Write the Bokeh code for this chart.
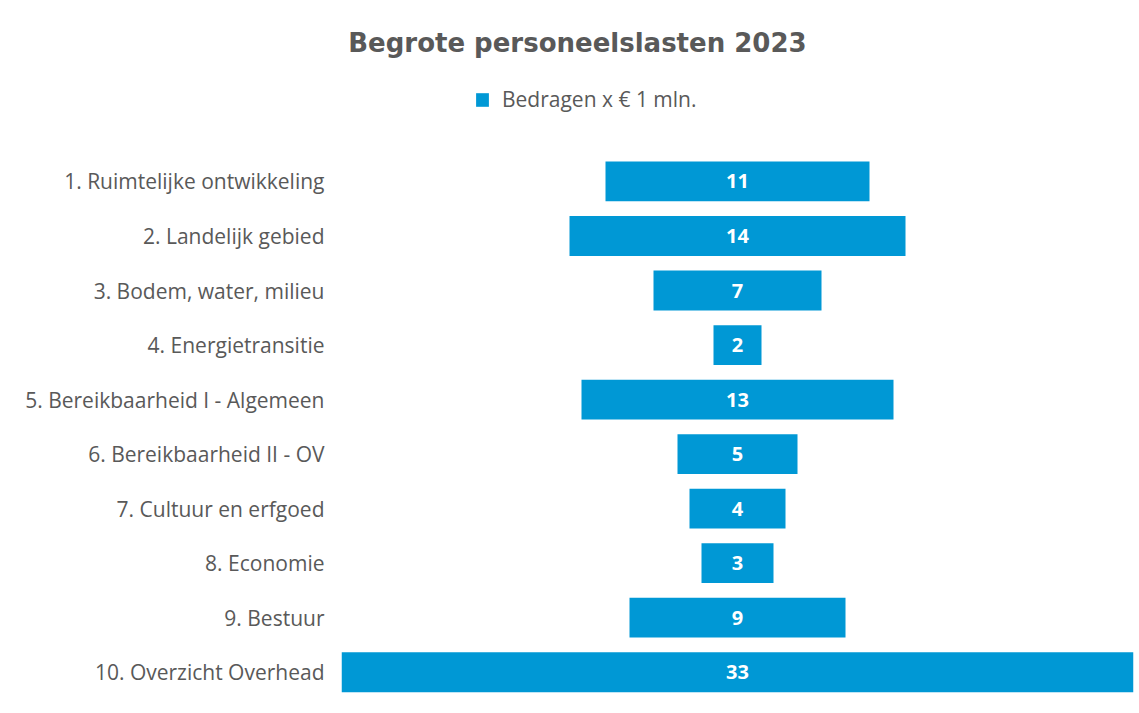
from bokeh.plotting import figure
from bokeh.models import ColumnDataSource, Range1d, FixedTicker, Label, Legend, LegendItem
from bokeh.core.properties import value
from bokeh.embed import file_html
from bokeh.resources import INLINE

categories = [
    "1. Ruimtelijke ontwikkeling",
    "2. Landelijk gebied",
    "3. Bodem, water, milieu",
    "4. Energietransitie",
    "5. Bereikbaarheid I - Algemeen",
    "6. Bereikbaarheid II - OV",
    "7. Cultuur en erfgoed",
    "8. Economie",
    "9. Bestuur",
    "10. Overzicht Overhead",
]
amounts = [11, 14, 7, 2, 13, 5, 4, 3, 9, 33]
series_name = "Bedragen x € 1 mln."
title_text = "Begrote personeelslasten 2023"

BAR = "#0098D5"
GRAY = "#595959"

rows = list(range(1, len(categories) + 1))
src = ColumnDataSource(dict(
    y=rows,
    left=[-a / 2 for a in amounts],
    right=[a / 2 for a in amounts],
    x=[0] * len(amounts),
    lab=[str(a) for a in amounts],
))

p = figure(width=1139, height=705, output_backend="svg", toolbar_location=None,
           x_range=Range1d(-16.5, 16.5), y_range=Range1d(10.5, -2.318),
           min_border_left=341, min_border_right=6, min_border_top=0, min_border_bottom=6)
p.outline_line_color = None
p.grid.grid_line_color = None
p.xaxis.visible = False

r = p.hbar(y="y", left="left", right="right", height=0.73, source=src,
           fill_color=BAR, line_color=None)
p.text(x="x", y="y", text="lab", source=src, text_align="center", text_baseline="middle",
       text_color="white", text_font=value("Open Sans"), text_font_style="bold", text_font_size="20px")

ya = p.yaxis[0]
ya.ticker = FixedTicker(ticks=rows)
ya.major_label_overrides = {i: c for i, c in zip(rows, categories)}
ya.axis_line_color = None
ya.major_tick_line_color = None
ya.minor_tick_line_color = None
ya.major_label_standoff = 11
ya.major_label_text_font = "Open Sans"
ya.major_label_text_font_size = "21px"
ya.major_label_text_color = GRAY

p.add_layout(Label(x=-6.67, y=-1.53, text=title_text, text_align="center", text_baseline="middle",
                   text_font="DejaVu Sans", text_font_style="bold", text_font_size="26px",
                   text_color=GRAY))

legend = Legend(items=[LegendItem(label=series_name, renderers=[r])],
                location=(133, 586), orientation="horizontal",
                label_text_font="Open Sans", label_text_font_size="21px", label_text_color=GRAY,
                glyph_width=16, glyph_height=17, label_height=17, padding=0, margin=0,
                border_line_color=None, background_fill_alpha=0, label_standoff=12)
p.add_layout(legend)

open("out.html", "w").write(file_html(p, INLINE))
